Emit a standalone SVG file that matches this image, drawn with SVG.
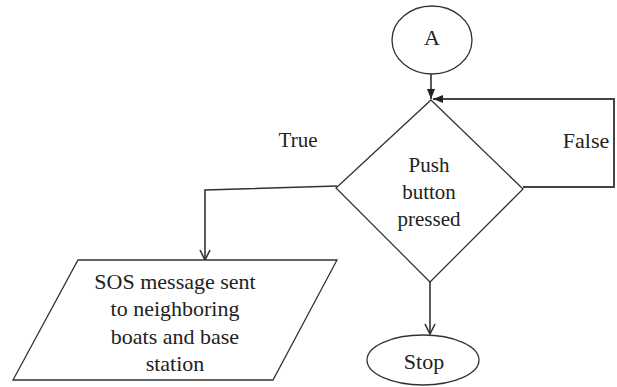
<svg xmlns="http://www.w3.org/2000/svg" width="617" height="387" viewBox="0 0 617 387">
<style>
.shape{fill:#fff;stroke:#333;stroke-width:1.3}
.conn{fill:none;stroke:#333;stroke-width:1.6}
.fb{fill:none;stroke:#444;stroke-width:2}
.t{font-family:'Liberation Serif','DejaVu Serif',serif;fill:#222;text-anchor:middle}
</style>
<defs>
<marker id="open" viewBox="0 0 12 12" refX="11" refY="6" markerWidth="12" markerHeight="12" markerUnits="userSpaceOnUse" orient="auto">
<path d="M1,1 L11,6 L1,11" fill="none" stroke="#333" stroke-width="1.6"/>
</marker>
<marker id="solid" viewBox="0 0 10 10" refX="10" refY="5" markerWidth="10" markerHeight="10" markerUnits="userSpaceOnUse" orient="auto">
<path d="M0,1 L10,5 L0,9 Z" fill="#222"/>
</marker>
</defs>
<rect width="617" height="387" fill="#fff"/>
<g id="connectors">
<line class="conn" x1="431" y1="74" x2="431" y2="99" marker-end="url(#solid)"/>
<polyline class="fb" points="523,187 614,187 614,99 433,99" marker-end="url(#solid)"/>
<polyline class="conn" points="337,186 205,190 205,260" marker-end="url(#open)"/>
<line class="conn" x1="430" y1="282" x2="430" y2="334" marker-end="url(#open)"/>
</g>
<g id="nodeA">
<ellipse class="shape" cx="432" cy="40" rx="40" ry="34"/>
<text class="t" x="432" y="45" font-size="22">A</text>
</g>
<g id="decision">
<polygon class="shape" points="431,100 523,189 430,282 336,188"/>
<text class="t" x="429" y="172" font-size="21">Push</text>
<text class="t" x="429" y="199" font-size="21">button</text>
<text class="t" x="429" y="226" font-size="21">pressed</text>
</g>
<g id="labels">
<text class="t" x="298" y="147" font-size="21">True</text>
<text class="t" x="586" y="148" font-size="22">False</text>
</g>
<g id="sos">
<polygon class="shape" points="78,260 337,260 273,380 13,380"/>
<text class="t" x="175" y="289" font-size="22">SOS message sent</text>
<text class="t" x="175" y="316" font-size="22">to neighboring</text>
<text class="t" x="175" y="344" font-size="22">boats and base</text>
<text class="t" x="175" y="371" font-size="22">station</text>
</g>
<g id="stop">
<ellipse class="shape" cx="423" cy="360" rx="56" ry="25"/>
<text class="t" x="424" y="369" font-size="22">Stop</text>
</g>
</svg>
